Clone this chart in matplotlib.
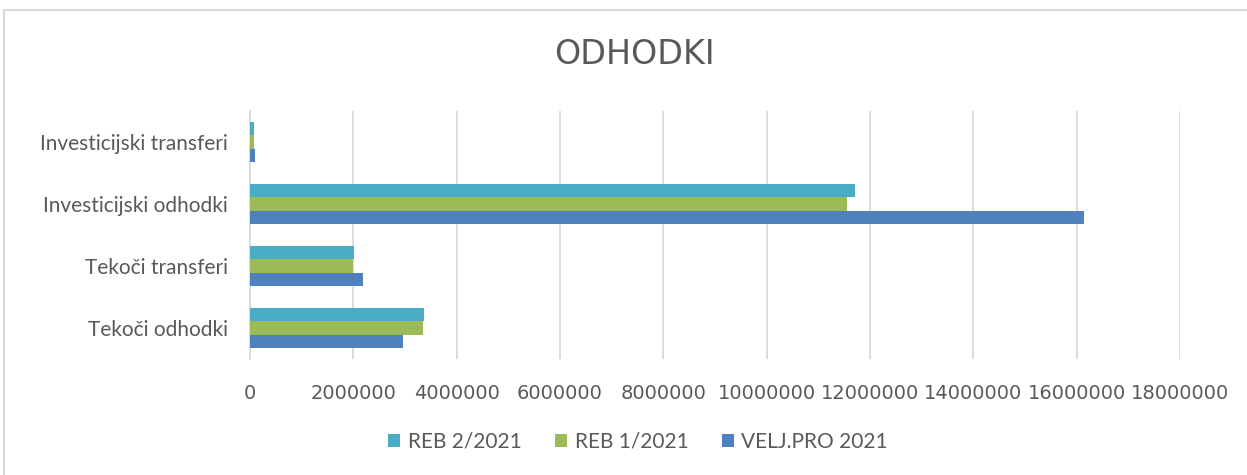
import numpy as np
import matplotlib.pyplot as plt
from matplotlib.patches import Rectangle

# data
categories = ['Tekoči odhodki', 'Tekoči transferi', 'Investicijski odhodki', 'Investicijski transferi']
velj_pro = [2960000, 2180000, 16150000, 95000]
reb1 = [3350000, 2000000, 11560000, 80000]
reb2 = [3370000, 2010000, 11700000, 85000]

txt = '#595959'
plt.rcParams['font.family'] = ['Lato', 'DejaVu Sans']

fig = plt.figure(figsize=(12.47, 4.75), dpi=100)
ax = fig.add_axes([250 / 1247, 1 - 359 / 475, 930 / 1247, 248 / 475])

y = np.arange(len(categories))
h = 0.21
ax.barh(y - h, velj_pro, h, color='#4F81BD', label='VELJ.PRO 2021', zorder=3)
ax.barh(y, reb1, h, color='#9BBB59', label='REB 1/2021', zorder=3)
ax.barh(y + h, reb2, h, color='#4BACC6', label='REB 2/2021', zorder=3)

ax.set_xlim(0, 18000000)
ax.set_ylim(-0.5, 3.5)
ax.set_xticks(np.arange(0, 18000001, 2000000))
ax.set_xticklabels([str(v) for v in range(0, 18000001, 2000000)],
                   family=['Liberation Sans Narrow', 'DejaVu Sans'], fontsize=14)
ax.set_yticks(y)
ax.set_yticklabels(categories, fontsize=15)
ax.tick_params(colors=txt, length=0)
ax.tick_params(axis='y', pad=16)
ax.tick_params(axis='x', pad=18)
ax.grid(axis='x', color='#d9d9d9', linewidth=1.3, zorder=0)
for s in ['top', 'right', 'bottom']:
    ax.spines[s].set_visible(False)
ax.spines['left'].set_color('#d9d9d9')
ax.spines['left'].set_linewidth(1.3)

fig.text(634 / 1247, 1 - 55 / 475, 'ODHODKI', ha='center', va='center', color=txt,
         fontsize=24, family=['Liberation Sans Narrow', 'DejaVu Sans'])

handles, labels = ax.get_legend_handles_labels()
fig.legend(handles[::-1], labels[::-1], loc='center', bbox_to_anchor=(638 / 1247, 1 - 442 / 475),
           ncol=3, frameon=False, fontsize=15, labelcolor=txt, handlelength=0.6,
           handleheight=0.6, handletextpad=0.35, columnspacing=1.6)

fig.patches.append(Rectangle((4 / 1247, -0.1), 1.1, 1.1 - 10 / 475, transform=fig.transFigure,
                             fill=False, edgecolor='#d9d9d9', linewidth=1.5))

fig.savefig('out.png', dpi=100)
